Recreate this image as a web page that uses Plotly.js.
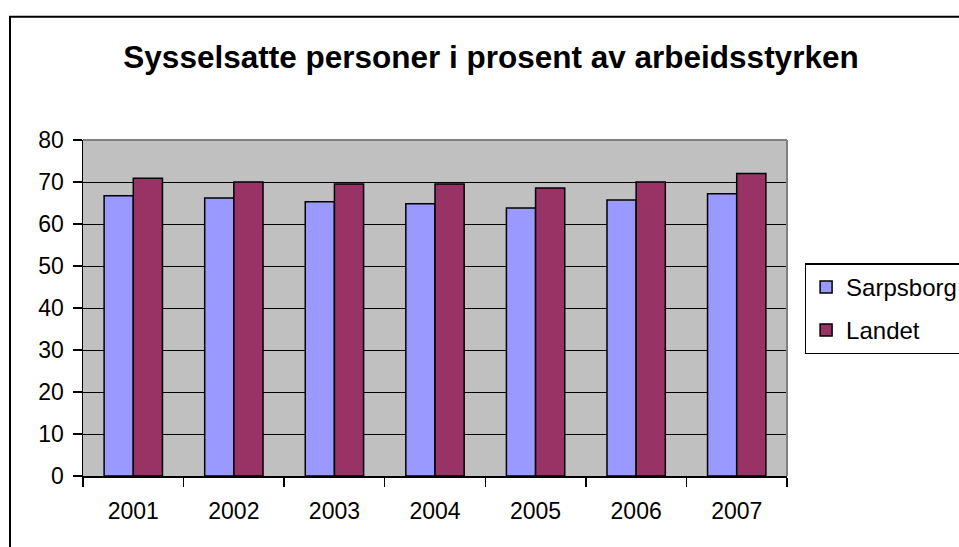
<!DOCTYPE html>
<html>
<head>
<meta charset="utf-8">
<script src="https://cdn.plot.ly/plotly-3.0.1.min.js"></script>
<style>html,body{margin:0;padding:0;background:#fff;overflow:hidden}#chart{width:959px;height:547px}</style>
</head>
<body>
<div id="chart"></div>
<script>
var years = ["2001", "2002", "2003", "2004", "2005", "2006", "2007"];
var sarpsborg = [66.7, 66.2, 65.3, 64.8, 63.8, 65.7, 67.2];
var landet = [70.9, 70.0, 69.5, 69.5, 68.6, 70.0, 72.0];
var yTicks = [0, 10, 20, 30, 40, 50, 60, 70, 80];
var chartTitle = "Sysselsatte personer i prosent av arbeidsstyrken";

var FONT = "Liberation Sans, Arial, sans-serif";

var traces = [
  {type: "bar", name: "Sarpsborg", x: years, y: sarpsborg, legendgroup: "a",
   marker: {color: "#9999FF", line: {color: "#000", width: 1.5}}},
  {type: "bar", name: "Landet", x: years, y: landet, legendgroup: "b",
   marker: {color: "#993366", line: {color: "#000", width: 1.5}}}
];

var layout = {
  width: 959, height: 547,
  margin: {l: 83, r: 172, t: 140, b: 71, autoexpand: false},
  paper_bgcolor: "#fff",
  plot_bgcolor: "#C0C0C0",
  font: {family: FONT, color: "#000"},
  title: {text: "<b>" + chartTitle + "</b>", font: {size: 31.5, family: FONT, color: "#000"},
          x: 0.512, xref: "container", xanchor: "center",
          y: 0.896, yref: "container", yanchor: "middle"},
  barmode: "group", bargap: 0.42, bargroupgap: 0,
  xaxis: {type: "category", tickson: "boundaries", ticks: "outside", ticklen: 9, tickwidth: 1.5,
          tickcolor: "#000", showline: true, linecolor: "#000", linewidth: 1.5, showgrid: false,
          tickfont: {size: 23, family: FONT}, ticklabelstandoff: 14, zeroline: false, fixedrange: true},
  yaxis: {range: [0, 80], tickvals: yTicks, ticks: "outside", ticklen: 9, tickwidth: 1.5,
          tickcolor: "#000", showline: true, linecolor: "#000", linewidth: 1.5,
          showgrid: true, gridcolor: "#000", gridwidth: 1, zeroline: false,
          tickfont: {size: 23, family: FONT}, ticklabelstandoff: 4, fixedrange: true},
  showlegend: true,
  legend: {x: 1.025, xanchor: "left", y: 0.633, yanchor: "top",
           bgcolor: "#fff", bordercolor: "#000", borderwidth: 1.5,
           font: {size: 24, family: FONT}, traceorder: "grouped", tracegroupgap: 9},
  shapes: [
    {type: "line", xref: "paper", yref: "paper", x0: 0, x1: 1, y0: 1, y1: 1,
     line: {color: "#808080", width: 2}},
    {type: "line", xref: "paper", yref: "paper", x0: 1, x1: 1, y0: 0, y1: 1,
     line: {color: "#808080", width: 2}},
    {type: "rect", xref: "paper", yref: "paper", x0: -0.1037, x1: 1.4, y0: -0.3, y1: 1.367,
     line: {color: "#000", width: 2}, fillcolor: "rgba(0,0,0,0)", layer: "below"}
  ]
};

Plotly.newPlot("chart", traces, layout, {staticPlot: true, displayModeBar: false});
</script>
</body>
</html>
